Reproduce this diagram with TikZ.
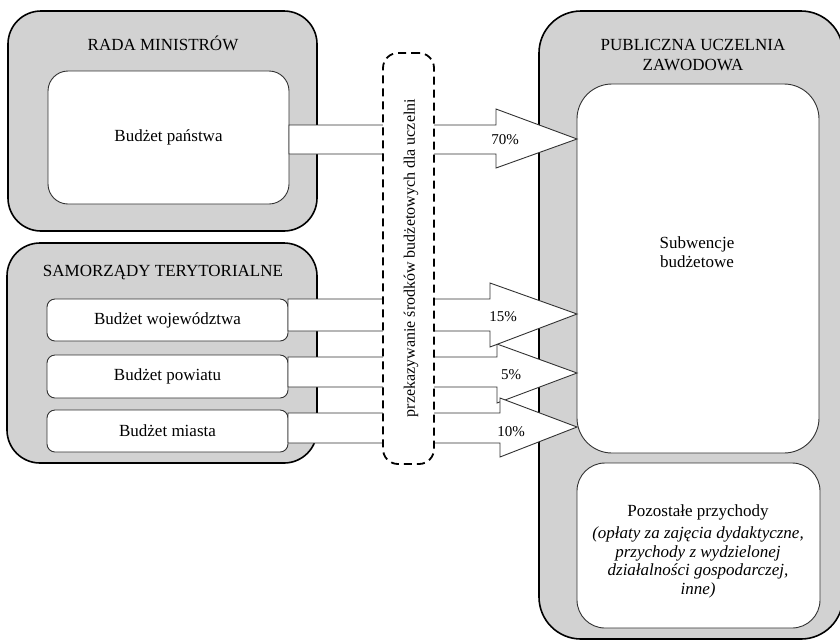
\documentclass[tikz,border=0pt]{standalone}
\usepackage{fontspec}
\setmainfont{Liberation Serif}
\definecolor{boxgray}{RGB}{210,210,210}
\definecolor{linegray}{RGB}{50,50,50}
\begin{document}
\begin{tikzpicture}[x=1pt,y=-1pt,
  every node/.style={inner sep=0pt, outer sep=0pt},
  outerbox/.style={draw=black, line width=1.6pt, fill=boxgray, rounded corners=33pt, anchor=north west},
  innerbox/.style={draw=linegray, line width=0.9pt, fill=white, anchor=north west},
  arrowshape/.style={draw=linegray, line width=0.9pt, fill=white, line join=miter},
  transferbox/.style={draw=black, line width=1.8pt, fill=white, dash pattern=on 8pt off 5pt, rounded corners=15pt, anchor=north west},
  bigtext/.style={font=\fontsize{17}{19.5}\selectfont, align=center},
  pcttext/.style={font=\fontsize{15}{17}\selectfont}
]
\useasboundingbox (0,0) rectangle (840,641);

% outer boxes
\node[outerbox, minimum width=309pt, minimum height=220pt] (rada) at (8,11) {};
\node[outerbox, minimum width=310pt, minimum height=220pt] (samo) at (7,243) {};
\node[outerbox, rounded corners=42pt, minimum width=304pt, minimum height=628pt] (uczelnia) at (539,11) {};

% inner boxes
\node[innerbox, rounded corners=20pt, minimum width=241pt, minimum height=133pt] (panstwo) at (48,71) {};
\node[innerbox, rounded corners=8pt, minimum width=241pt, minimum height=42pt] (woj) at (47,299) {};
\node[innerbox, rounded corners=8pt, minimum width=241pt, minimum height=43pt] (pow) at (47,355) {};
\node[innerbox, rounded corners=8pt, minimum width=241pt, minimum height=42pt] (mia) at (47,410) {};
\node[innerbox, rounded corners=35pt, minimum width=242pt, minimum height=369pt] (subw) at (577,84) {};
\node[innerbox, rounded corners=28pt, minimum width=243pt, minimum height=165pt] (pozost) at (577,463) {};

% titles and texts
\node[bigtext] (radat) at (163,43) {RADA MINISTRÓW};
\node[bigtext] (samot) at (163,273) {SAMORZĄDY TERYTORIALNE};
\node[bigtext] (uczt) at (693,55) {PUBLICZNA UCZELNIA\\ZAWODOWA};
\node[bigtext] (panstwot) at (panstwo.center) {Budżet państwa};
\node[bigtext] (wojt) at (woj.center) {Budżet województwa};
\node[bigtext] (powt) at (pow.center) {Budżet powiatu};
\node[bigtext] (miat) at (mia.center) {Budżet miasta};
\node[bigtext] (subwt) at (697,252) {Subwencje\\budżetowe};
\node[bigtext] (pozt) at (698,512) {Pozostałe przychody};
\node[bigtext, font=\fontsize{17}{18.5}\selectfont\itshape, anchor=north] (pozi) at (698,527)
  {(opłaty za zajęcia dydaktyczne,\\przychody z wydzielonej\\działalności gospodarczej,\\inne)};

% arrows
\draw[arrowshape] (panstwo.east |- 0,125) -- (496,125) -- (496,109) -- (subw.west |- 0,139)
  -- (496,168) -- (496,154) -- (panstwo.east |- 0,154) -- cycle;
\draw[arrowshape] (pow.east |- 0,357) -- (497,357) -- (497,344) -- (subw.west |- 0,373)
  -- (497,403) -- (497,387) -- (pow.east |- 0,387) -- cycle;
\draw[arrowshape] (woj.east |- 0,299) -- (490,299) -- (490,283) -- (subw.west |- 0,314)
  -- (490,347) -- (490,331) -- (woj.east |- 0,331) -- cycle;
\draw[arrowshape] (mia.east |- 0,413) -- (500,413) -- (500,398) -- (subw.west |- 0,427)
  -- (500,457) -- (500,443) -- (mia.east |- 0,443) -- cycle;

% transfer box
\node[transferbox, minimum width=51pt, minimum height=411pt] (transfer) at (383,53) {};
\node[font=\fontsize{16}{18}\selectfont, rotate=90] (transfert) at (411,258)
  {przekazywanie środków budżetowych dla uczelni};

% percentages
\node[pcttext] (p70) at (505,140) {70\%};
\node[pcttext] (p15) at (503,317) {15\%};
\node[pcttext] (p5) at (511,375) {5\%};
\node[pcttext] (p10) at (511,432) {10\%};
\end{tikzpicture}
\end{document}
